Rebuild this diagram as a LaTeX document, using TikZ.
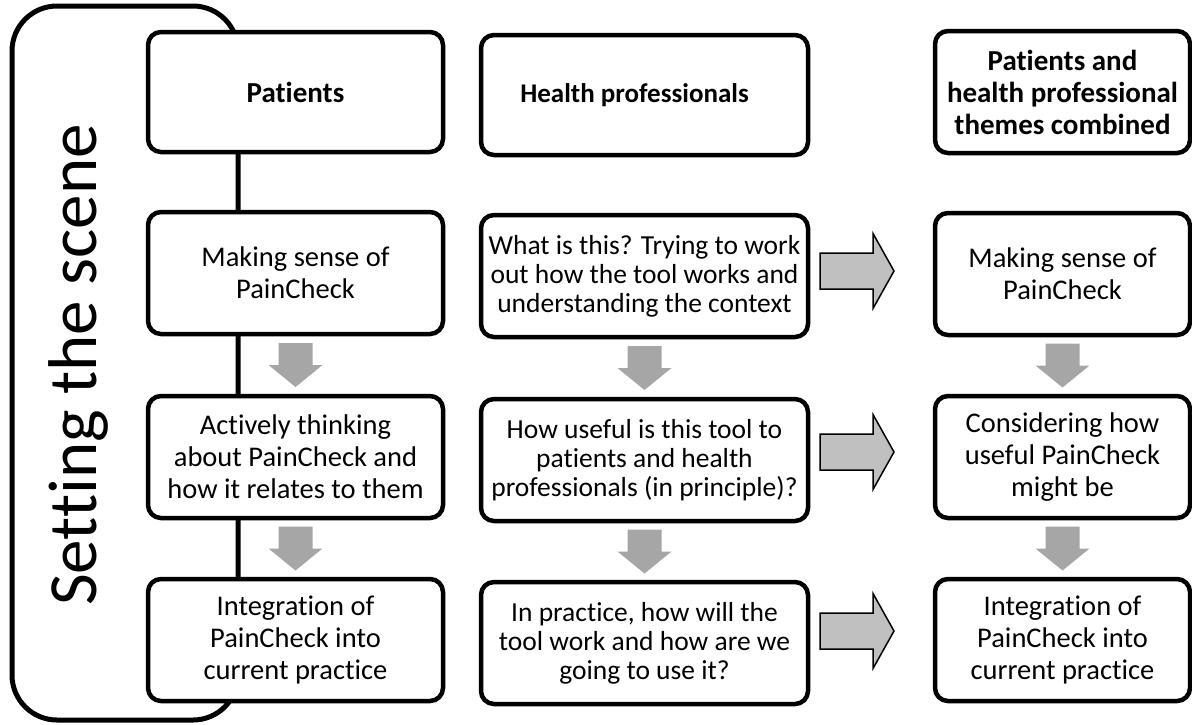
\documentclass[tikz,border=0pt]{standalone}
\usepackage{fontspec}
\setmainfont{Carlito}[Ligatures={NoCommon,NoContextual}]
\usetikzlibrary{calc}
\begin{document}
\begin{tikzpicture}[x=1pt,y=-1pt,
  frame/.style={draw=black, line width=5pt, rounded corners=45pt, inner sep=0pt},
  box/.style={draw=black, fill=white, line width=4.5pt, rounded corners=13pt,
    align=center, inner sep=0pt},
  colA/.style={box, minimum width=295pt},
  colB/.style={box, minimum width=327pt},
  colC/.style={box, minimum width=255pt},
  hdr/.style={font=\fontsize{29}{32}\selectfont\bfseries},
  hdrsmall/.style={font=\fontsize{27}{30}\selectfont\bfseries},
  txt/.style={font=\fontsize{28.5}{32}\selectfont},
  txtsmall/.style={font=\fontsize{27.5}{29}\selectfont},
  downarrow/.pic={\fill[fill=arrowdark] (-17,-22) -- (17,-22) -- (17,0) -- (27,0)
      -- (0,22) -- (-27,0) -- (-17,0) -- cycle;},
  rightarrow/.pic={\filldraw[fill=arrowlight, draw=black, line width=1.5pt, line join=miter]
      (-37,-18) -- (16,-18) -- (16,-37.5) -- (37,0) -- (16,37.5) -- (16,18) -- (-37,18) -- cycle;}
]
\definecolor{arrowdark}{HTML}{A6A6A6}
\definecolor{arrowlight}{HTML}{C0C0C0}
\useasboundingbox (0,0) rectangle (1192,724);

% outer frame with the rotated title
\node[frame, minimum width=226pt, minimum height=714pt] (scenebox) at (125,363) {};
\node[rotate=90, font=\fontsize{69}{80}\selectfont] (scene) at (78,365) {Setting the scene};

% patients column
\node[colA, minimum height=120pt, hdr] (a0) at (295.5,92) {Patients};
\node[colA, minimum height=122pt, txt] (a1) at (295.5,273) {Making sense of\\PainCheck};
\node[colA, minimum height=122pt, txt] (a2) at (295.5,457) {Actively thinking\\about PainCheck and\\how it relates to them};
\node[colA, minimum height=122pt, txt] (a3) at (295.5,640) {Integration of\\PainCheck into\\current practice};

% health professionals column
\node[colB, minimum height=120pt, hdrsmall] (b0) at (644.5,95) {Health professionals\hspace*{20pt}};
\node[colB, minimum height=122pt, txtsmall] (b1) at (644.5,276) {What is this? Trying to work\\out how the tool works and\\understanding the context};
\node[colB, minimum height=122pt, txtsmall] (b2) at (644.5,460) {How useful is this tool to\\patients and health\\professionals (in principle)?};
\node[colB, minimum height=122pt, txtsmall] (b3) at (644.5,643) {In practice, how will the\\tool work and how are we\\going to use it?};

% combined column
\node[colC, minimum height=122pt, hdr] (c0) at (1062.5,92) {Patients and\\health professional\\themes combined};
\node[colC, minimum height=122pt, txt] (c1) at (1062.5,274) {Making sense of\\PainCheck};
\node[colC, minimum height=122pt, txt] (c2) at (1062.5,457) {Considering how\\useful PainCheck\\might be};
\node[colC, minimum height=122pt, txt] (c3) at (1062.5,640) {Integration of\\PainCheck into\\current practice};

% downward block arrows between rows
\foreach \n in {a,b,c}{
  \coordinate (\n12) at ($(\n1.south)!0.5!(\n2.north)$);
  \coordinate (\n23) at ($(\n2.south)!0.5!(\n3.north)$);
  \pic at (\n12) {downarrow};
  \pic at (\n23) {downarrow};
}

% block arrows into the combined column
\coordinate (r1) at (857,271);
\coordinate (r2) at (857,452);
\coordinate (r3) at (857,631);
\pic at (r1) {rightarrow};
\pic at (r2) {rightarrow};
\pic at (r3) {rightarrow};
\end{tikzpicture}
\end{document}
